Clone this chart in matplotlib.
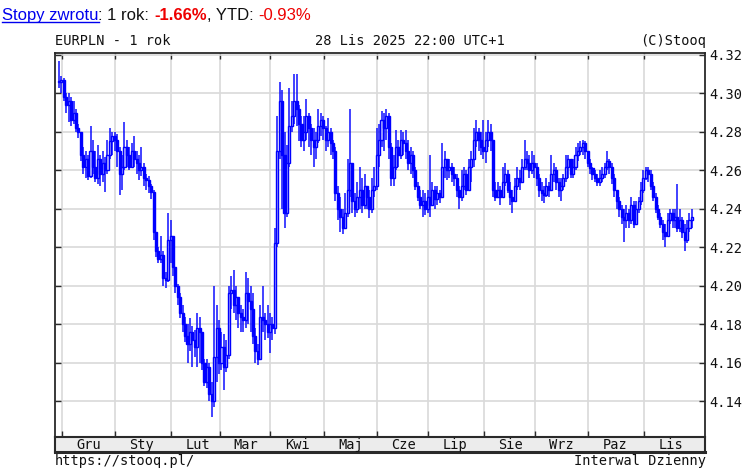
import numpy as np
import pandas as pd
import matplotlib
matplotlib.use('Agg')
import matplotlib.pyplot as plt
from matplotlib.lines import Line2D

# dzienne notowania EURPLN (zamkniecie, max, min), 28.11.2024 - 28.11.2025
close = [4.306, 4.307, 4.298, 4.294, 4.296, 4.286, 4.290, 4.282, 4.280, 4.268,
         4.262, 4.266, 4.257, 4.270, 4.262, 4.256, 4.266, 4.258, 4.264, 4.260,
         4.268, 4.275, 4.278, 4.276, 4.270, 4.258, 4.262, 4.272, 4.268, 4.262,
         4.270, 4.266, 4.264, 4.260, 4.262, 4.256, 4.255, 4.252, 4.249, 4.228,
         4.218, 4.214, 4.216, 4.204, 4.203, 4.224, 4.226, 4.210, 4.200, 4.194,
         4.186, 4.180, 4.174, 4.170, 4.176, 4.172, 4.168, 4.178, 4.176, 4.160,
         4.150, 4.158, 4.144, 4.140, 4.163, 4.178, 4.160, 4.168, 4.158, 4.164,
         4.196, 4.198, 4.190, 4.194, 4.186, 4.184, 4.182, 4.196, 4.192, 4.188,
         4.174, 4.166, 4.162, 4.184, 4.182, 4.180, 4.176, 4.180, 4.178, 4.222,
         4.270, 4.296, 4.268, 4.238, 4.264, 4.283, 4.288, 4.296, 4.292, 4.284,
         4.276, 4.280, 4.288, 4.282, 4.276, 4.272, 4.276, 4.283, 4.286, 4.282,
         4.276, 4.280, 4.274, 4.270, 4.248, 4.240, 4.236, 4.230, 4.238, 4.250,
         4.264, 4.244, 4.240, 4.246, 4.250, 4.242, 4.252, 4.246, 4.240, 4.250,
         4.252, 4.268, 4.276, 4.286, 4.282, 4.288, 4.272, 4.256, 4.262, 4.272,
         4.268, 4.276, 4.274, 4.270, 4.264, 4.268, 4.260, 4.252, 4.246, 4.242,
         4.244, 4.240, 4.246, 4.242, 4.250, 4.245, 4.248, 4.246, 4.262, 4.266,
         4.260, 4.262, 4.258, 4.256, 4.250, 4.246, 4.252, 4.258, 4.250, 4.262,
         4.266, 4.276, 4.280, 4.276, 4.272, 4.270, 4.276, 4.280, 4.276, 4.250,
         4.246, 4.250, 4.246, 4.254, 4.258, 4.250, 4.246, 4.244, 4.252, 4.256,
         4.254, 4.262, 4.266, 4.264, 4.260, 4.264, 4.262, 4.256, 4.250, 4.248,
         4.247, 4.252, 4.250, 4.258, 4.260, 4.254, 4.250, 4.252, 4.256, 4.262,
         4.266, 4.258, 4.262, 4.268, 4.270, 4.272, 4.274, 4.270, 4.264, 4.261,
         4.258, 4.256, 4.254, 4.256, 4.258, 4.262, 4.265, 4.262, 4.256, 4.250,
         4.244, 4.240, 4.236, 4.234, 4.238, 4.234, 4.242, 4.232, 4.240, 4.244,
         4.250, 4.256, 4.260, 4.258, 4.252, 4.246, 4.240, 4.236, 4.232, 4.228,
         4.226, 4.234, 4.238, 4.234, 4.236, 4.230, 4.234, 4.228, 4.224, 4.230,
         4.234, 4.236]
high = [4.317, 4.309, 4.308, 4.300, 4.300, 4.298, 4.296, 4.292, 4.284, 4.280,
        4.272, 4.270, 4.268, 4.283, 4.276, 4.270, 4.273, 4.268, 4.270, 4.267,
        4.276, 4.282, 4.280, 4.280, 4.279, 4.272, 4.268, 4.285, 4.276, 4.272,
        4.274, 4.278, 4.270, 4.268, 4.272, 4.264, 4.258, 4.257, 4.253, 4.250,
        4.228, 4.220, 4.226, 4.218, 4.207, 4.238, 4.234, 4.226, 4.210, 4.201,
        4.196, 4.190, 4.184, 4.180, 4.183, 4.179, 4.177, 4.186, 4.184, 4.176,
        4.162, 4.162, 4.160, 4.150, 4.200, 4.190, 4.182, 4.176, 4.175, 4.172,
        4.200, 4.205, 4.208, 4.200, 4.192, 4.190, 4.188, 4.207, 4.204, 4.200,
        4.196, 4.178, 4.170, 4.190, 4.200, 4.186, 4.190, 4.186, 4.184, 4.230,
        4.288, 4.306, 4.302, 4.280, 4.273, 4.303, 4.296, 4.310, 4.310, 4.294,
        4.288, 4.288, 4.297, 4.290, 4.284, 4.282, 4.280, 4.292, 4.290, 4.288,
        4.283, 4.287, 4.282, 4.276, 4.272, 4.252, 4.246, 4.240, 4.248, 4.266,
        4.292, 4.260, 4.248, 4.254, 4.262, 4.256, 4.258, 4.252, 4.250, 4.256,
        4.262, 4.282, 4.284, 4.291, 4.290, 4.292, 4.290, 4.274, 4.268, 4.281,
        4.276, 4.281, 4.280, 4.281, 4.276, 4.272, 4.270, 4.262, 4.254, 4.250,
        4.250, 4.248, 4.250, 4.268, 4.254, 4.252, 4.252, 4.250, 4.274, 4.270,
        4.266, 4.266, 4.264, 4.262, 4.258, 4.252, 4.260, 4.262, 4.260, 4.266,
        4.270, 4.282, 4.286, 4.282, 4.280, 4.286, 4.280, 4.286, 4.284, 4.274,
        4.254, 4.254, 4.252, 4.262, 4.264, 4.260, 4.254, 4.250, 4.256, 4.262,
        4.260, 4.266, 4.276, 4.270, 4.268, 4.270, 4.268, 4.264, 4.258, 4.254,
        4.252, 4.256, 4.254, 4.268, 4.264, 4.262, 4.256, 4.256, 4.258, 4.268,
        4.268, 4.266, 4.266, 4.272, 4.274, 4.275, 4.276, 4.275, 4.270, 4.266,
        4.262, 4.260, 4.258, 4.260, 4.262, 4.264, 4.270, 4.266, 4.264, 4.258,
        4.250, 4.246, 4.242, 4.240, 4.242, 4.240, 4.246, 4.244, 4.244, 4.246,
        4.254, 4.260, 4.262, 4.262, 4.260, 4.254, 4.248, 4.242, 4.238, 4.234,
        4.232, 4.238, 4.240, 4.240, 4.240, 4.253, 4.240, 4.236, 4.232, 4.234,
        4.238, 4.240]
low = [4.303, 4.300, 4.296, 4.290, 4.285, 4.283, 4.284, 4.280, 4.277, 4.265,
       4.258, 4.256, 4.255, 4.256, 4.258, 4.254, 4.253, 4.252, 4.254, 4.249,
       4.258, 4.266, 4.268, 4.270, 4.262, 4.247, 4.250, 4.260, 4.262, 4.260,
       4.261, 4.262, 4.258, 4.255, 4.257, 4.252, 4.250, 4.248, 4.245, 4.224,
       4.215, 4.212, 4.212, 4.200, 4.199, 4.202, 4.212, 4.205, 4.196, 4.190,
       4.183, 4.176, 4.171, 4.160, 4.166, 4.158, 4.163, 4.158, 4.160, 4.156,
       4.148, 4.147, 4.140, 4.132, 4.137, 4.150, 4.154, 4.156, 4.146, 4.155,
       4.162, 4.188, 4.186, 4.182, 4.178, 4.176, 4.176, 4.178, 4.180, 4.176,
       4.170, 4.160, 4.159, 4.162, 4.176, 4.172, 4.173, 4.165, 4.172, 4.175,
       4.220, 4.266, 4.240, 4.230, 4.236, 4.262, 4.280, 4.284, 4.283, 4.275,
       4.272, 4.270, 4.276, 4.272, 4.268, 4.262, 4.266, 4.274, 4.278, 4.276,
       4.270, 4.272, 4.268, 4.266, 4.244, 4.234, 4.228, 4.227, 4.231, 4.236,
       4.246, 4.238, 4.236, 4.238, 4.240, 4.238, 4.240, 4.240, 4.235, 4.238,
       4.246, 4.250, 4.262, 4.272, 4.270, 4.276, 4.266, 4.252, 4.252, 4.260,
       4.262, 4.266, 4.268, 4.266, 4.260, 4.258, 4.256, 4.250, 4.244, 4.240,
       4.236, 4.237, 4.238, 4.236, 4.244, 4.240, 4.242, 4.243, 4.246, 4.256,
       4.255, 4.256, 4.254, 4.252, 4.246, 4.240, 4.244, 4.250, 4.247, 4.252,
       4.254, 4.262, 4.272, 4.270, 4.268, 4.266, 4.264, 4.272, 4.270, 4.246,
       4.244, 4.246, 4.242, 4.246, 4.252, 4.248, 4.242, 4.238, 4.244, 4.250,
       4.250, 4.254, 4.260, 4.260, 4.256, 4.258, 4.256, 4.252, 4.246, 4.244,
       4.243, 4.246, 4.246, 4.250, 4.254, 4.250, 4.246, 4.244, 4.250, 4.254,
       4.256, 4.256, 4.256, 4.260, 4.265, 4.268, 4.268, 4.266, 4.262, 4.258,
       4.255, 4.254, 4.252, 4.252, 4.254, 4.256, 4.260, 4.258, 4.253, 4.246,
       4.240, 4.236, 4.232, 4.223, 4.230, 4.230, 4.232, 4.230, 4.232, 4.238,
       4.242, 4.248, 4.255, 4.254, 4.250, 4.244, 4.238, 4.234, 4.230, 4.224,
       4.220, 4.226, 4.232, 4.230, 4.230, 4.228, 4.228, 4.225, 4.218, 4.222,
       4.228, 4.230]

month_names = ['Gru', 'Sty', 'Lut', 'Mar', 'Kwi', 'Maj', 'Cze', 'Lip', 'Sie',
               'Wrz', 'Paz', 'Lis']
yticks = [4.14, 4.16, 4.18, 4.20, 4.22, 4.24, 4.26, 4.28, 4.30, 4.32]

close = np.array(close)
high = np.array(high)
low = np.array(low)
opn = np.r_[close[0], close[:-1]]
dates = pd.bdate_range('2024-11-28', periods=len(close))
x = np.arange(len(close))

W, H = 747, 470
fig = plt.figure(figsize=(W / 100, H / 100), dpi=100)
mono = 'DejaVu Sans Mono'
blue = '#0000ff'
dark = '#2a2a2a'

ax = fig.add_axes([55 / W, 1 - 437 / H, 650 / W, 384 / H])
band = fig.add_axes([55 / W, 1 - 452 / H, 650 / W, 15 / H], sharex=ax)

# swiece
hi = np.maximum(high, np.maximum(opn, close))
lo = np.minimum(low, np.minimum(opn, close))
ax.vlines(x, lo, hi, color=blue, lw=1.3, alpha=0.8, zorder=3)
up = close >= opn
body = np.maximum(np.abs(close - opn), 0.0004)
ax.bar(x, body, bottom=np.minimum(opn, close), width=0.85,
       facecolor=np.where(up, '#b8b8ff', blue), edgecolor=blue, lw=1.0, zorder=4)

# granice miesiecy
starts = [np.argmax((dates.year == d.year) & (dates.month == d.month))
          for d in pd.date_range('2024-12-01', '2025-11-01', freq='MS')]
grid_x = np.array(starts) - 0.8
ax.set_xlim(-1.65, 266.4)
ax.set_ylim(4.1214, 4.321)
ax.set_xticks(grid_x)
ax.set_yticks(yticks)
ax.set_yticklabels(['%.2f' % v for v in yticks])
ax.grid(True, color='#d9d9d9', lw=1.2, zorder=0)
ax.tick_params(axis='both', direction='in', length=4, width=1, color=dark,
               left=True, right=True, top=True, bottom=True,
               labelleft=False, labelright=True, labelbottom=False)
ax.tick_params(axis='y', labelsize=9.8, pad=3, labelcolor='#111111')
for lab in ax.get_yticklabels():
    lab.set_family(mono)
for s in ax.spines.values():
    s.set_color(dark)
    s.set_linewidth(1.3)

band.set_facecolor('#ececec')
band.set_yticks([])
band.tick_params(axis='x', length=0, labelbottom=False)
for s in band.spines.values():
    s.set_color(dark)
    s.set_linewidth(1.5)
band.spines['bottom'].set_linewidth(2.2)
for gx, name in zip(grid_x, month_names):
    band.text(gx + 11, 0.45, name, ha='center', va='center', family=mono,
              fontsize=9.8, color='#111111', transform=band.get_xaxis_transform())

# naglowek i stopka
fig.text(55 / W, 1 - 41 / H, 'EURPLN - 1 rok', family=mono, fontsize=9.8,
         va='center', ha='left', color='#111111')
fig.text(315 / W, 1 - 41 / H, '28 Lis 2025 22:00 UTC+1', family=mono,
         fontsize=9.8, va='center', ha='left', color='#111111')
fig.text(706 / W, 1 - 41 / H, '(C)Stooq', family=mono, fontsize=9.8,
         va='center', ha='right', color='#111111')
fig.text(55 / W, 1 - 461 / H, 'https://stooq.pl/', family=mono, fontsize=9.8,
         va='center', ha='left', color='#111111')
fig.text(706 / W, 1 - 461 / H, 'Interwal Dzienny', family=mono, fontsize=9.8,
         va='center', ha='right', color='#111111')

# linia "Stopy zwrotu"
r = fig.canvas.get_renderer()
pieces = [('Stopy zwrotu', '#0000ee', 'normal'), (': 1 rok: ', '#111111', 'normal'),
          ('-1.66%', '#ee0000', 'bold'), (', YTD: ', '#111111', 'normal'),
          ('-0.93%', '#ee0000', 'normal')]
xpos = 2
for i, (txt, col, wt) in enumerate(pieces):
    t = fig.text(xpos / W, 1 - 20 / H, txt, family='Liberation Sans', fontsize=12,
                 color=col, weight=wt, va='baseline', ha='left')
    bb = t.get_window_extent(r)
    if i == 0:
        fig.add_artist(Line2D([bb.x0 / W, bb.x1 / W], [1 - 22 / H, 1 - 22 / H],
                              color=col, lw=1))
    xpos = bb.x1

fig.savefig('out.png', dpi=100)
